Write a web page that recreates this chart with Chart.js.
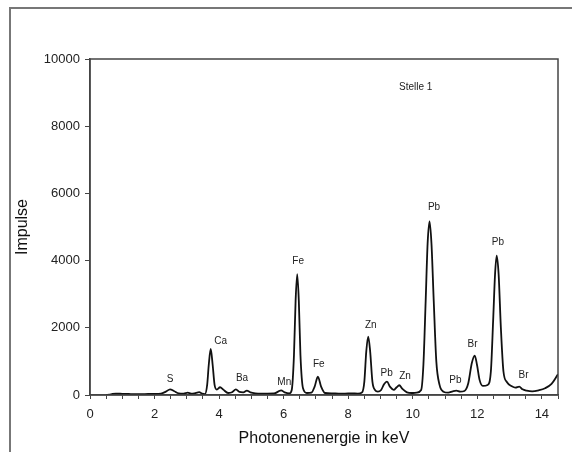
<!DOCTYPE html>
<html>
<head>
<meta charset="utf-8">
<script src="https://cdn.jsdelivr.net/npm/chart.js@4.4.0/dist/chart.umd.min.js"></script>
<style>
  body { margin: 0; background: #fff; }
  canvas { display: block; }
</style>
</head>
<body>
<canvas id="spectrumChart" width="572" height="452"></canvas>
<script>
// spectrum: photon energy (keV) and counts
const energies = [
  0.50, 0.60, 0.70, 0.80, 1.00, 1.20, 1.40, 1.60, 1.80, 2.00,
  2.20, 2.35, 2.48, 2.60, 2.75, 2.90, 3.03, 3.13, 3.28, 3.38,
  3.48, 3.56, 3.63, 3.68, 3.74, 3.80, 3.86, 3.93, 4.03, 4.13,
  4.28, 4.40, 4.52, 4.63, 4.75, 4.86, 4.97, 5.12, 5.30, 5.50,
  5.70, 5.83, 5.92, 6.03, 6.18, 6.25, 6.32, 6.37, 6.42, 6.47,
  6.52, 6.60, 6.72, 6.86, 6.96, 7.06, 7.16, 7.28, 7.50, 7.70,
  7.90, 8.10, 8.30, 8.43, 8.50, 8.56, 8.62, 8.68, 8.75, 8.83,
  8.92, 9.02, 9.11, 9.20, 9.30, 9.41, 9.50, 9.58, 9.68, 9.82,
  9.97, 10.12, 10.26, 10.33, 10.40, 10.46, 10.52, 10.58, 10.65, 10.73,
  10.83, 10.95, 11.10, 11.24, 11.35, 11.47, 11.60, 11.72, 11.83, 11.92,
  11.99, 12.07, 12.17, 12.32, 12.42, 12.49, 12.55, 12.60, 12.66, 12.73,
  12.81, 12.92, 13.07, 13.18, 13.30, 13.40, 13.53, 13.70, 13.90, 14.10,
  14.30, 14.45, 14.50
];
const counts = [
  0, 10, 35, 40, 35, 30, 25, 25, 30, 30,
  40, 100, 170, 120, 50, 40, 70, 40, 60, 85,
  40, 25, 300, 900, 1370, 900, 300, 160, 230, 160,
  60, 80, 170, 90, 80, 130, 80, 50, 40, 40,
  45, 100, 140, 80, 50, 150, 1200, 2800, 3600, 2800,
  1200, 200, 60, 70, 250, 546, 250, 60, 50, 40,
  40, 50, 40, 80, 400, 1300, 1738, 1300, 400, 150,
  100, 150, 320, 397, 240, 150, 230, 290, 180, 80,
  60, 70, 150, 900, 2800, 4500, 5166, 4500, 2800, 1000,
  300, 100, 70, 110, 130, 100, 120, 350, 950, 1172,
  900, 450, 270, 300, 700, 2200, 3600, 4150, 3600, 2000,
  700, 380, 260, 220, 250, 170, 130, 110, 140, 200,
  330, 540, 620
];

// peak labels, anchored in data units
const peakNames = ["S", "Ca", "Ba", "Mn", "Fe", "Fe", "Zn", "Pb", "Zn", "Pb", "Pb", "Br", "Pb", "Br"];
const peakLabelX = [2.48, 4.05, 4.71, 6.02, 6.45, 7.09, 8.70, 9.19, 9.76, 10.66, 11.32, 11.85, 12.64, 13.43];
const peakLabelY = [477, 1589, 486, 387, 3973, 915, 2066, 647, 566, 5595, 447, 1511, 4560, 575];

const sampleName = "Stelle 1";
const sampleX = 10.09;
const sampleY = 9162;

const xTitle = "Photonenenergie in keV";
const yTitle = "Impulse";
const fontFamily = "'Liberation Sans', Arial, sans-serif";

const points = energies.map((e, i) => ({ x: e, y: counts[i] }));

const decorations = {
  id: "decorations",
  beforeDraw(chart) {
    const ctx = chart.ctx;
    ctx.save();
    ctx.fillStyle = "#fff";
    ctx.fillRect(0, 0, chart.width, chart.height);
    // outer frame of the figure
    ctx.strokeStyle = "#777";
    ctx.lineWidth = 2;
    ctx.beginPath();
    ctx.moveTo(10, chart.height);
    ctx.lineTo(10, 8);
    ctx.lineTo(chart.width, 8);
    ctx.stroke();
    ctx.restore();
  },
  afterDraw(chart) {
    const ctx = chart.ctx;
    const area = chart.chartArea;
    const xs = chart.scales.x;
    const ys = chart.scales.y;
    ctx.save();
    ctx.strokeStyle = "#444";
    ctx.lineWidth = 1.5;
    ctx.strokeRect(area.left, area.top, area.right - area.left, area.bottom - area.top);

    ctx.fillStyle = "#222";
    ctx.font = "10px " + fontFamily;
    ctx.textAlign = "center";
    ctx.textBaseline = "middle";
    peakNames.forEach((name, i) => {
      ctx.fillText(name, xs.getPixelForValue(peakLabelX[i]), ys.getPixelForValue(peakLabelY[i]));
    });
    ctx.fillText(sampleName, xs.getPixelForValue(sampleX), ys.getPixelForValue(sampleY));

    // axis titles
    ctx.fillStyle = "#111";
    ctx.font = "16px " + fontFamily;
    ctx.fillText(xTitle, (area.left + area.right) / 2, 439);
    ctx.translate(23, (area.top + area.bottom) / 2);
    ctx.rotate(-Math.PI / 2);
    ctx.fillText(yTitle, 0, 0);
    ctx.restore();
  }
};

new Chart(document.getElementById("spectrumChart"), {
  type: "line",
  data: {
    datasets: [{
      data: points,
      borderColor: "#111",
      borderWidth: 1.8,
      pointRadius: 0,
      fill: false,
      cubicInterpolationMode: "monotone"
    }]
  },
  options: {
    responsive: false,
    animation: false,
    layout: { padding: { top: 59, right: 14, left: 0, bottom: 0 } },
    plugins: {
      legend: { display: false },
      tooltip: { enabled: false }
    },
    scales: {
      x: {
        type: "linear",
        min: 0,
        max: 14.5,
        afterFit: scale => { scale.height = 57; },
        border: { display: true, color: "#444", width: 1.5 },
        grid: { drawOnChartArea: false, drawTicks: true, tickLength: 4, color: "#444" },
        ticks: {
          stepSize: 0.5,
          autoSkip: false,
          maxRotation: 0,
          padding: 8,
          color: "#222",
          font: { size: 13, family: fontFamily },
          callback: v => (v % 2 === 0 ? String(v) : "")
        }
      },
      y: {
        min: 0,
        max: 10000,
        afterFit: scale => { scale.width = 90; },
        border: { display: true, color: "#444", width: 1.5 },
        grid: { drawOnChartArea: false, drawTicks: true, tickLength: 5, color: "#444" },
        ticks: {
          stepSize: 2000,
          padding: 5,
          color: "#222",
          font: { size: 13, family: fontFamily },
          callback: v => String(v)
        }
      }
    }
  },
  plugins: [decorations]
});
</script>
</body>
</html>
